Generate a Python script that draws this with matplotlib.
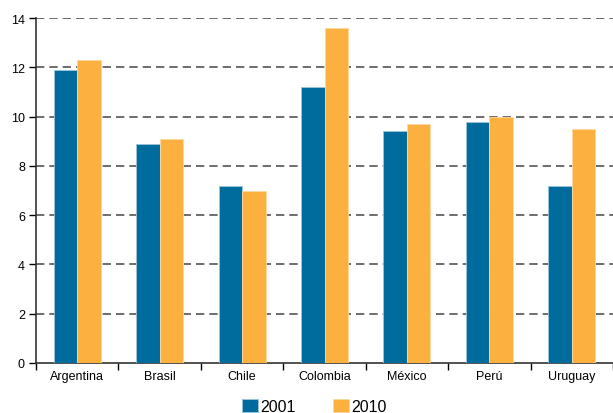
import matplotlib
matplotlib.use("Agg")
import matplotlib.pyplot as plt
import numpy as np

categories = ["Argentina", "Brasil", "Chile", "Colombia", "México", "Perú", "Uruguay"]
v2001 = [11.9, 8.9, 7.2, 11.2, 9.4, 9.8, 7.2]
v2010 = [12.3, 9.1, 7.0, 13.6, 9.7, 10.0, 9.5]
series_labels = ["2001", "2010"]
colors = ["#006B9D", "#FBB040"]

plt.rcParams['font.family'] = ['Liberation Sans', 'DejaVu Sans']
fig = plt.figure(figsize=(6.13, 4.14), dpi=100)
ax = fig.add_axes([36/613, 50/414, 1 - 36/613, 345/414])

x = np.arange(len(categories)) + 0.5
w = 0.285
ax.bar(x - w/2, v2001, w, color=colors[0], edgecolor="#9cc6dc", linewidth=0.6, label=series_labels[0], zorder=3)
ax.bar(x + w/2, v2010, w, color=colors[1], edgecolor="#fdd9a0", linewidth=0.6, label=series_labels[1], zorder=3)

ax.set_xlim(0, 7)
ax.set_ylim(0, 14)
ax.set_yticks(np.arange(0, 15, 2))
ax.set_xticks(x)
ax.set_xticklabels(categories, fontsize=9)
ax.set_xticks(np.arange(0, 8), minor=True)
ax.tick_params(axis='x', which='major', length=0, pad=5)
ax.tick_params(axis='x', which='minor', length=5, width=1, direction='out')
ax.tick_params(axis='y', length=5, width=1, labelsize=9, pad=3)

for t in np.arange(2, 15, 2):
    ax.axhline(t, color="#555555", linestyle=(0, (5, 3)), linewidth=1.2, zorder=1)

for s in ["top", "right"]:
    ax.spines[s].set_visible(False)
for s in ["left", "bottom"]:
    ax.spines[s].set_linewidth(1.2)
    ax.spines[s].set_color("#333333")

handles, labels = ax.get_legend_handles_labels()
fig.legend(handles, labels, loc="lower center", bbox_to_anchor=(0.513, -0.03), ncol=2, frameon=False,
           fontsize=11.5, handlelength=1.0, handleheight=0.9, handletextpad=0.15, columnspacing=2.3,
           borderpad=0.2)

fig.savefig("out.png", dpi=100)
